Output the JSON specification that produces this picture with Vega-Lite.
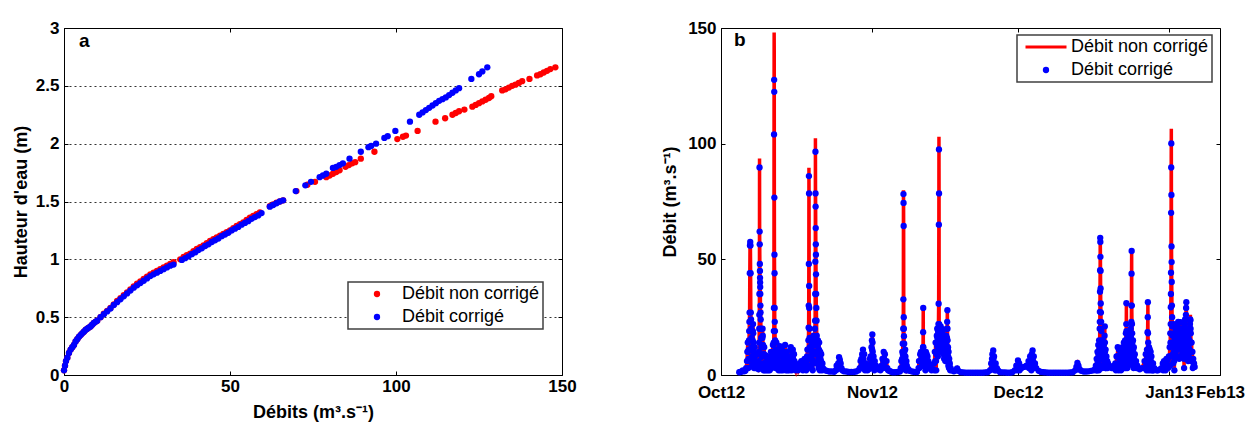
{
"$schema": "https://vega.github.io/schema/vega-lite/v6.json",
"padding": {"left": 11, "top": 18, "right": 4, "bottom": 0},
"background": "white",
"config": {
 "font": "Liberation Sans",
 "view": {"stroke": "black", "strokeWidth": 1},
 "axis": {"domain": false, "labelFont": "Liberation Sans", "labelFontSize": 17, "labelFontWeight": "bold", "labelColor": "black", "titleFont": "Liberation Sans", "titleFontSize": 18, "titleFontWeight": "bold", "titleColor": "black", "tickColor": "black", "tickSize": -4, "grid": false},
 "axisX": {"labelPadding": 7, "labelFlush": false},
 "axisY": {"labelPadding": 9},
 "legend": {"labelFont": "Liberation Sans", "labelFontSize": 18, "labelColor": "black", "strokeColor": "#404040", "strokeWidth": 1.5, "fillColor": "white", "padding": 3, "rowPadding": 5, "title": null}
},
"datasets": {
 "nc": [
  {"q":0,"h":0.04},{"q":0.3,"h":0.08},{"q":0.6,"h":0.12},{"q":1,"h":0.15},{"q":1.5,"h":0.19},{"q":2,"h":0.22},{"q":2.5,"h":0.24},{"q":3,"h":0.26},{"q":3.5,"h":0.29},{"q":4,"h":0.31},{"q":4.5,"h":0.33},{"q":5,"h":0.345},{"q":5.5,"h":0.36},{"q":6,"h":0.375},{"q":6.5,"h":0.39},{"q":7,"h":0.4},{"q":7.5,"h":0.41},{"q":8,"h":0.42},{"q":8.5,"h":0.435},{"q":9,"h":0.45},{"q":9.5,"h":0.46},{"q":10,"h":0.47},{"q":11,"h":0.5},{"q":12,"h":0.53},{"q":13,"h":0.555},{"q":14,"h":0.58},{"q":15,"h":0.61},{"q":16,"h":0.64},{"q":17,"h":0.665},{"q":18,"h":0.69},{"q":19,"h":0.715},{"q":20,"h":0.74},{"q":21,"h":0.765},{"q":22,"h":0.79},{"q":23,"h":0.81},{"q":24,"h":0.83},{"q":25,"h":0.85},{"q":26,"h":0.87},{"q":27,"h":0.885},{"q":28,"h":0.9},{"q":29,"h":0.915},{"q":30,"h":0.93},{"q":31,"h":0.945},{"q":32,"h":0.96},{"q":33,"h":0.975},{"q":35,"h":1.0},{"q":36,"h":1.02},{"q":37,"h":1.035},{"q":38,"h":1.05},{"q":39,"h":1.07},{"q":40,"h":1.09},{"q":41,"h":1.105},{"q":42,"h":1.12},{"q":43,"h":1.14},{"q":44,"h":1.16},{"q":45,"h":1.175},{"q":46,"h":1.19},{"q":47,"h":1.205},{"q":48,"h":1.22},{"q":49,"h":1.235},{"q":50,"h":1.25},{"q":51,"h":1.27},{"q":52,"h":1.29},{"q":53,"h":1.305},{"q":54,"h":1.32},{"q":55,"h":1.34},{"q":56,"h":1.36},{"q":57,"h":1.375},{"q":58,"h":1.39},{"q":59,"h":1.405},{"q":62,"h":1.46},{"q":63,"h":1.475},{"q":64,"h":1.49},{"q":65,"h":1.5},{"q":66,"h":1.51},
  {"q":70,"h":1.59},{"q":73.3,"h":1.645},{"q":75.6,"h":1.67},{"q":79,"h":1.71},{"q":80,"h":1.725},{"q":81,"h":1.74},{"q":82,"h":1.755},{"q":83,"h":1.77},{"q":84.8,"h":1.8},{"q":85.8,"h":1.815},{"q":86.8,"h":1.83},{"q":87.7,"h":1.84},{"q":89.4,"h":1.87},{"q":93.5,"h":1.93},{"q":100.4,"h":2.04},{"q":102.1,"h":2.06},{"q":103,"h":2.07},{"q":106.5,"h":2.11},{"q":111.9,"h":2.19},{"q":114.8,"h":2.22},{"q":117,"h":2.25},{"q":118,"h":2.265},{"q":119,"h":2.28},{"q":120.6,"h":2.295},{"q":123,"h":2.32},{"q":124,"h":2.335},{"q":125,"h":2.35},{"q":126,"h":2.365},{"q":127,"h":2.38},{"q":128,"h":2.395},{"q":128.7,"h":2.41},{"q":132,"h":2.46},{"q":133,"h":2.47},{"q":134,"h":2.485},{"q":135,"h":2.5},{"q":136,"h":2.51},{"q":137,"h":2.525},{"q":138,"h":2.54},{"q":140.2,"h":2.56},{"q":142.5,"h":2.59},{"q":143.5,"h":2.6},{"q":144.5,"h":2.615},{"q":145.5,"h":2.63},{"q":146.5,"h":2.645},{"q":148,"h":2.66}
 ],
 "c": [
  {"q":0,"h":0.04},{"q":0.3,"h":0.08},{"q":0.6,"h":0.12},{"q":1,"h":0.15},{"q":1.5,"h":0.19},{"q":2,"h":0.22},{"q":2.5,"h":0.24},{"q":3,"h":0.26},{"q":3.5,"h":0.29},{"q":4,"h":0.31},{"q":4.5,"h":0.33},{"q":5,"h":0.345},{"q":5.5,"h":0.36},{"q":6,"h":0.375},{"q":6.5,"h":0.39},{"q":7,"h":0.4},{"q":7.5,"h":0.41},{"q":8,"h":0.42},{"q":8.5,"h":0.435},{"q":9,"h":0.45},{"q":9.5,"h":0.46},{"q":10,"h":0.47},{"q":11,"h":0.5},{"q":12,"h":0.525},{"q":13,"h":0.55},{"q":14,"h":0.575},{"q":15,"h":0.605},{"q":16,"h":0.63},{"q":17,"h":0.655},{"q":18,"h":0.68},{"q":19,"h":0.705},{"q":20,"h":0.73},{"q":21,"h":0.755},{"q":22,"h":0.775},{"q":23,"h":0.795},{"q":24,"h":0.815},{"q":25,"h":0.835},{"q":26,"h":0.855},{"q":27,"h":0.87},{"q":28,"h":0.885},{"q":29,"h":0.9},{"q":30,"h":0.915},{"q":31,"h":0.93},{"q":32,"h":0.945},{"q":33,"h":0.955},{"q":35.5,"h":0.995},{"q":36.5,"h":1.01},{"q":37.5,"h":1.025},{"q":38.5,"h":1.045},{"q":39.5,"h":1.06},{"q":40.5,"h":1.08},{"q":41.5,"h":1.095},{"q":42.5,"h":1.115},{"q":43.5,"h":1.13},{"q":44.5,"h":1.15},{"q":45.5,"h":1.165},{"q":46.5,"h":1.18},{"q":47.5,"h":1.2},{"q":48.5,"h":1.215},{"q":49.5,"h":1.23},{"q":50.5,"h":1.25},{"q":51.5,"h":1.265},{"q":52.5,"h":1.28},{"q":53.5,"h":1.3},{"q":54.5,"h":1.315},{"q":55.5,"h":1.33},{"q":56.5,"h":1.35},{"q":57.5,"h":1.365},{"q":58.5,"h":1.38},{"q":59.5,"h":1.4},{"q":62,"h":1.455},{"q":63,"h":1.47},{"q":64,"h":1.485},{"q":65,"h":1.5},{"q":66,"h":1.51},
  {"q":69.8,"h":1.59},{"q":72.7,"h":1.64},{"q":74.4,"h":1.67},{"q":77,"h":1.71},{"q":78,"h":1.725},{"q":79,"h":1.74},{"q":81,"h":1.79},{"q":82,"h":1.8},{"q":83,"h":1.815},{"q":84,"h":1.83},{"q":86,"h":1.87},{"q":89.4,"h":1.93},{"q":91.7,"h":1.97},{"q":92.5,"h":1.98},{"q":94,"h":2.0},{"q":96.5,"h":2.05},{"q":97.5,"h":2.065},{"q":99.8,"h":2.11},{"q":104.2,"h":2.19},{"q":107,"h":2.25},{"q":108,"h":2.27},{"q":109,"h":2.29},{"q":110,"h":2.31},{"q":111,"h":2.33},{"q":112,"h":2.35},{"q":113,"h":2.37},{"q":114,"h":2.385},{"q":115,"h":2.4},{"q":116,"h":2.42},{"q":117,"h":2.44},{"q":118,"h":2.46},{"q":119,"h":2.48},{"q":122.7,"h":2.56},{"q":125,"h":2.6},{"q":126,"h":2.625},{"q":127.5,"h":2.66}
 ],
 "ts": [
  {"t":"2012-10-04 18:00","r":1.2,"b":1.2},{"t":"2012-10-05 00:00","r":1.3,"b":1.3},{"t":"2012-10-05 06:00","r":1.5,"b":1.5},{"t":"2012-10-05 12:00","r":2,"b":2},{"t":"2012-10-05 18:00","r":1.6,"b":1.6},
  {"t":"2012-10-06 00:00","r":1.8,"b":1.8},{"t":"2012-10-06 04:00","r":3,"b":3},{"t":"2012-10-06 08:00","r":6,"b":6},{"t":"2012-10-06 10:00","r":10,"b":10},{"t":"2012-10-06 12:00","r":14,"b":14},{"t":"2012-10-06 13:00","r":10,"b":10},{"t":"2012-10-06 14:00","r":6,"b":6},{"t":"2012-10-06 15:00","r":3,"b":3},{"t":"2012-10-06 16:00","r":7,"b":7},{"t":"2012-10-06 17:00","r":11,"b":11},{"t":"2012-10-06 18:00","r":15,"b":15},{"t":"2012-10-06 19:00","r":19,"b":19},{"t":"2012-10-06 20:00","r":23,"b":23},{"t":"2012-10-06 21:00","r":27,"b":27},{"t":"2012-10-06 22:00","r":44,"b":44},{"t":"2012-10-06 23:00","r":56,"b":56},
  {"t":"2012-10-07 00:00","r":58,"b":57.5},{"t":"2012-10-07 01:00","r":56,"b":56},{"t":"2012-10-07 02:00","r":44,"b":44},{"t":"2012-10-07 03:00","r":27,"b":27},{"t":"2012-10-07 04:00","r":24,"b":24},{"t":"2012-10-07 05:00","r":20,"b":20},{"t":"2012-10-07 06:00","r":16,"b":16},{"t":"2012-10-07 07:00","r":12,"b":12},{"t":"2012-10-07 08:00","r":8,"b":8},{"t":"2012-10-07 09:00","r":4,"b":4},{"t":"2012-10-07 10:00","r":7,"b":7},{"t":"2012-10-07 11:00","r":11,"b":11},{"t":"2012-10-07 12:00","r":15,"b":15},{"t":"2012-10-07 13:00","r":19,"b":19},{"t":"2012-10-07 14:00","r":22,"b":22},{"t":"2012-10-07 15:00","r":18,"b":18},{"t":"2012-10-07 16:00","r":14,"b":14},{"t":"2012-10-07 17:00","r":10,"b":10},{"t":"2012-10-07 18:00","r":6,"b":6},{"t":"2012-10-07 19:00","r":3,"b":3},{"t":"2012-10-07 20:00","r":6,"b":6},{"t":"2012-10-07 21:00","r":9,"b":9},{"t":"2012-10-07 22:00","r":12,"b":12},{"t":"2012-10-07 23:00","r":8,"b":8},
  {"t":"2012-10-08 00:00","r":5,"b":5},{"t":"2012-10-08 02:00","r":3,"b":3},{"t":"2012-10-08 04:00","r":4,"b":4},{"t":"2012-10-08 08:00","r":3.5,"b":3.5},{"t":"2012-10-08 12:00","r":3,"b":3},{"t":"2012-10-08 14:00","r":5,"b":5},{"t":"2012-10-08 15:00","r":9,"b":9},{"t":"2012-10-08 16:00","r":5,"b":5},{"t":"2012-10-08 17:00","r":2.5,"b":2.5},{"t":"2012-10-08 18:00","r":6,"b":6},{"t":"2012-10-08 19:00","r":10,"b":10},{"t":"2012-10-08 20:00","r":14,"b":14},{"t":"2012-10-08 20:30","r":20,"b":20},{"t":"2012-10-08 21:00","r":26,"b":26},{"t":"2012-10-08 21:30","r":35,"b":35},{"t":"2012-10-08 22:00","r":93.6,"b":89.7},{"t":"2012-10-08 22:30","r":62,"b":62},{"t":"2012-10-08 23:00","r":56.5,"b":56.5},{"t":"2012-10-08 23:30","r":48,"b":48},
  {"t":"2012-10-09 00:00","r":45,"b":45},{"t":"2012-10-09 00:30","r":42,"b":42},{"t":"2012-10-09 01:00","r":40,"b":40},{"t":"2012-10-09 01:30","r":38,"b":38},{"t":"2012-10-09 02:00","r":35,"b":35},{"t":"2012-10-09 02:30","r":30,"b":30},{"t":"2012-10-09 03:00","r":27,"b":27},{"t":"2012-10-09 04:00","r":24,"b":24},{"t":"2012-10-09 05:00","r":20,"b":20},{"t":"2012-10-09 06:00","r":16,"b":16},{"t":"2012-10-09 07:00","r":12,"b":12},{"t":"2012-10-09 08:00","r":8,"b":8},{"t":"2012-10-09 09:00","r":4,"b":4},{"t":"2012-10-09 10:00","r":8,"b":8},{"t":"2012-10-09 11:00","r":12,"b":12},{"t":"2012-10-09 12:00","r":16,"b":16},{"t":"2012-10-09 13:00","r":20,"b":20},{"t":"2012-10-09 14:00","r":17,"b":17},{"t":"2012-10-09 15:00","r":13,"b":13},{"t":"2012-10-09 16:00","r":9,"b":9},{"t":"2012-10-09 17:00","r":5,"b":5},{"t":"2012-10-09 18:00","r":2,"b":2},{"t":"2012-10-09 19:00","r":5,"b":5},{"t":"2012-10-09 20:00","r":9,"b":9},{"t":"2012-10-09 21:00","r":12,"b":12},{"t":"2012-10-09 22:00","r":8,"b":8},{"t":"2012-10-09 23:00","r":4,"b":4},
  {"t":"2012-10-10 00:00","r":2,"b":2},{"t":"2012-10-10 02:00","r":5,"b":5},{"t":"2012-10-10 04:00","r":8.5,"b":8.5},{"t":"2012-10-10 06:00","r":5,"b":5},{"t":"2012-10-10 08:00","r":2,"b":2},{"t":"2012-10-10 10:00","r":4,"b":4},{"t":"2012-10-10 12:00","r":7,"b":7},{"t":"2012-10-10 14:00","r":4,"b":4},{"t":"2012-10-10 16:00","r":2,"b":2},{"t":"2012-10-10 18:00","r":5,"b":5},{"t":"2012-10-10 20:00","r":7,"b":7},{"t":"2012-10-10 22:00","r":4,"b":4},
  {"t":"2012-10-11 00:00","r":2,"b":2},{"t":"2012-10-11 02:00","r":5,"b":5},{"t":"2012-10-11 04:00","r":8,"b":8},{"t":"2012-10-11 06:00","r":10,"b":10},{"t":"2012-10-11 08:00","r":6,"b":6},{"t":"2012-10-11 10:00","r":3,"b":3},{"t":"2012-10-11 12:00","r":6,"b":6},{"t":"2012-10-11 14:00","r":10,"b":10},{"t":"2012-10-11 16:00","r":13,"b":13},{"t":"2012-10-11 17:00","r":9,"b":9},{"t":"2012-10-11 18:00","r":5,"b":5},{"t":"2012-10-11 19:00","r":9,"b":9},{"t":"2012-10-11 20:00","r":14,"b":14},{"t":"2012-10-11 20:30","r":19,"b":19},{"t":"2012-10-11 21:00","r":29,"b":29},{"t":"2012-10-11 21:30","r":111,"b":104},{"t":"2012-10-11 22:00","r":148,"b":127.6},{"t":"2012-10-11 22:30","r":140,"b":122.4},{"t":"2012-10-11 23:00","r":78.5,"b":76.7},{"t":"2012-10-11 23:30","r":52,"b":52},
  {"t":"2012-10-12 00:00","r":44,"b":44},{"t":"2012-10-12 00:30","r":29,"b":29},{"t":"2012-10-12 01:00","r":23,"b":23},{"t":"2012-10-12 02:00","r":19,"b":19},{"t":"2012-10-12 03:00","r":15,"b":15},{"t":"2012-10-12 04:00","r":11,"b":11},{"t":"2012-10-12 05:00","r":7,"b":7},{"t":"2012-10-12 06:00","r":3,"b":3},{"t":"2012-10-12 07:00","r":6,"b":6},{"t":"2012-10-12 08:00","r":10,"b":10},{"t":"2012-10-12 09:00","r":14,"b":14},{"t":"2012-10-12 10:00","r":11,"b":11},{"t":"2012-10-12 11:00","r":7,"b":7},{"t":"2012-10-12 12:00","r":3,"b":3},{"t":"2012-10-12 14:00","r":7,"b":7},{"t":"2012-10-12 16:00","r":11,"b":11},{"t":"2012-10-12 17:00","r":8,"b":8},{"t":"2012-10-12 18:00","r":5,"b":5},{"t":"2012-10-12 20:00","r":2,"b":2},{"t":"2012-10-12 22:00","r":5,"b":5},{"t":"2012-10-12 23:00","r":8,"b":8},
  {"t":"2012-10-13 00:00","r":11,"b":11},{"t":"2012-10-13 02:00","r":12.5,"b":12.5},{"t":"2012-10-13 03:00","r":9,"b":9},{"t":"2012-10-13 04:00","r":5,"b":5},{"t":"2012-10-13 06:00","r":2,"b":2},{"t":"2012-10-13 08:00","r":5,"b":5},{"t":"2012-10-13 10:00","r":9,"b":9},{"t":"2012-10-13 12:00","r":12,"b":12},{"t":"2012-10-13 13:00","r":8,"b":8},{"t":"2012-10-13 14:00","r":4,"b":4},{"t":"2012-10-13 16:00","r":2,"b":2},{"t":"2012-10-13 18:00","r":6,"b":6},{"t":"2012-10-13 20:00","r":10,"b":10},{"t":"2012-10-13 21:00","r":6,"b":6},{"t":"2012-10-13 22:00","r":3,"b":3},
  {"t":"2012-10-14 00:00","r":6,"b":6},{"t":"2012-10-14 02:00","r":10,"b":10},{"t":"2012-10-14 04:00","r":13,"b":13},{"t":"2012-10-14 05:00","r":9,"b":9},{"t":"2012-10-14 06:00","r":5,"b":5},{"t":"2012-10-14 08:00","r":2,"b":2},{"t":"2012-10-14 10:00","r":6,"b":6},{"t":"2012-10-14 12:00","r":10,"b":10},{"t":"2012-10-14 13:00","r":7,"b":7},{"t":"2012-10-14 14:00","r":4,"b":4},{"t":"2012-10-14 16:00","r":2,"b":2},{"t":"2012-10-14 18:00","r":5,"b":5},{"t":"2012-10-14 20:00","r":8,"b":8},{"t":"2012-10-14 22:00","r":5,"b":5},
  {"t":"2012-10-15 00:00","r":2,"b":2},{"t":"2012-10-15 02:00","r":4,"b":4},{"t":"2012-10-15 04:00","r":7,"b":7},{"t":"2012-10-15 06:00","r":11,"b":11},{"t":"2012-10-15 08:00","r":12,"b":12},{"t":"2012-10-15 09:00","r":8,"b":8},{"t":"2012-10-15 10:00","r":4,"b":4},{"t":"2012-10-15 12:00","r":2,"b":2},{"t":"2012-10-15 14:00","r":6,"b":6},{"t":"2012-10-15 16:00","r":10,"b":10},{"t":"2012-10-15 18:00","r":11,"b":11},{"t":"2012-10-15 19:00","r":7,"b":7},{"t":"2012-10-15 20:00","r":3,"b":3},{"t":"2012-10-15 22:00","r":6,"b":6},
  {"t":"2012-10-16 00:00","r":9,"b":9},{"t":"2012-10-16 02:00","r":6,"b":6},{"t":"2012-10-16 04:00","r":3,"b":3},{"t":"2012-10-16 08:00","r":2,"b":2},{"t":"2012-10-16 12:00","r":4,"b":4},{"t":"2012-10-16 16:00","r":3,"b":3},{"t":"2012-10-16 20:00","r":2,"b":2},
  {"t":"2012-10-17 00:00","r":3,"b":3},{"t":"2012-10-17 04:00","r":5,"b":5},{"t":"2012-10-17 08:00","r":3,"b":3},{"t":"2012-10-17 12:00","r":6,"b":6},{"t":"2012-10-17 16:00","r":4,"b":4},{"t":"2012-10-17 20:00","r":2,"b":2},
  {"t":"2012-10-18 00:00","r":4,"b":4},{"t":"2012-10-18 04:00","r":7,"b":7},{"t":"2012-10-18 08:00","r":4,"b":4},{"t":"2012-10-18 12:00","r":2,"b":2},{"t":"2012-10-18 14:00","r":5,"b":5},{"t":"2012-10-18 16:00","r":8,"b":8},{"t":"2012-10-18 18:00","r":11,"b":11},{"t":"2012-10-18 19:00","r":7,"b":7},{"t":"2012-10-18 20:00","r":3,"b":3},{"t":"2012-10-18 21:00","r":7,"b":7},{"t":"2012-10-18 22:00","r":11,"b":11},{"t":"2012-10-18 23:00","r":15,"b":15},
  {"t":"2012-10-19 00:00","r":20.5,"b":20.5},{"t":"2012-10-19 00:30","r":30,"b":30},{"t":"2012-10-19 01:00","r":48,"b":48},{"t":"2012-10-19 01:30","r":89.6,"b":86},{"t":"2012-10-19 02:00","r":80.5,"b":78.5},{"t":"2012-10-19 02:30","r":38.5,"b":38.5},{"t":"2012-10-19 03:00","r":29,"b":29},{"t":"2012-10-19 04:00","r":20,"b":20},{"t":"2012-10-19 05:00","r":16,"b":16},{"t":"2012-10-19 06:00","r":12,"b":12},{"t":"2012-10-19 07:00","r":8,"b":8},{"t":"2012-10-19 08:00","r":4,"b":4},{"t":"2012-10-19 09:00","r":8,"b":8},{"t":"2012-10-19 10:00","r":12,"b":12},{"t":"2012-10-19 11:00","r":15,"b":15},{"t":"2012-10-19 12:00","r":11,"b":11},{"t":"2012-10-19 13:00","r":7,"b":7},{"t":"2012-10-19 14:00","r":3,"b":3},{"t":"2012-10-19 15:00","r":7,"b":7},{"t":"2012-10-19 16:00","r":11,"b":11},{"t":"2012-10-19 17:00","r":14,"b":14},{"t":"2012-10-19 18:00","r":10,"b":10},{"t":"2012-10-19 19:00","r":6,"b":6},{"t":"2012-10-19 20:00","r":2,"b":2},{"t":"2012-10-19 21:00","r":6,"b":6},{"t":"2012-10-19 22:00","r":10,"b":10},{"t":"2012-10-19 23:00","r":14,"b":14},
  {"t":"2012-10-20 00:00","r":17,"b":17},{"t":"2012-10-20 01:00","r":13,"b":13},{"t":"2012-10-20 02:00","r":9,"b":9},{"t":"2012-10-20 03:00","r":5,"b":5},{"t":"2012-10-20 04:00","r":9,"b":9},{"t":"2012-10-20 05:00","r":13,"b":13},{"t":"2012-10-20 06:00","r":16,"b":16},{"t":"2012-10-20 07:00","r":20,"b":20},{"t":"2012-10-20 08:00","r":23.5,"b":23.5},{"t":"2012-10-20 08:30","r":35,"b":35},{"t":"2012-10-20 09:00","r":49,"b":49},{"t":"2012-10-20 09:30","r":102.3,"b":96.5},{"t":"2012-10-20 10:00","r":81,"b":78.5},{"t":"2012-10-20 10:30","r":74,"b":72.8},{"t":"2012-10-20 11:00","r":63.5,"b":63.5},{"t":"2012-10-20 11:30","r":56.5,"b":56.5},{"t":"2012-10-20 12:00","r":52,"b":52},{"t":"2012-10-20 12:30","r":43.5,"b":43.5},{"t":"2012-10-20 13:00","r":35,"b":35},{"t":"2012-10-20 14:00","r":29,"b":29},{"t":"2012-10-20 15:00","r":23.5,"b":23.5},{"t":"2012-10-20 16:00","r":17,"b":17},{"t":"2012-10-20 17:00","r":13,"b":13},{"t":"2012-10-20 18:00","r":9,"b":9},{"t":"2012-10-20 19:00","r":5,"b":5},{"t":"2012-10-20 20:00","r":9,"b":9},{"t":"2012-10-20 21:00","r":13,"b":13},{"t":"2012-10-20 22:00","r":15,"b":15},{"t":"2012-10-20 23:00","r":11,"b":11},
  {"t":"2012-10-21 00:00","r":7,"b":7},{"t":"2012-10-21 01:00","r":3,"b":3},{"t":"2012-10-21 02:00","r":7,"b":7},{"t":"2012-10-21 03:00","r":11,"b":11},{"t":"2012-10-21 04:00","r":14,"b":14},{"t":"2012-10-21 05:00","r":10,"b":10},{"t":"2012-10-21 06:00","r":6,"b":6},{"t":"2012-10-21 07:00","r":2,"b":2},{"t":"2012-10-21 08:00","r":6,"b":6},{"t":"2012-10-21 09:00","r":10,"b":10},{"t":"2012-10-21 10:00","r":7,"b":7},{"t":"2012-10-21 11:00","r":3,"b":3},{"t":"2012-10-21 13:00","r":6,"b":6},{"t":"2012-10-21 14:00","r":9,"b":9},{"t":"2012-10-21 16:00","r":5,"b":5},{"t":"2012-10-21 18:00","r":2,"b":2},{"t":"2012-10-21 20:00","r":5,"b":5},{"t":"2012-10-21 22:00","r":3,"b":3},
  {"t":"2012-10-22 02:00","r":2.5,"b":2.5},{"t":"2012-10-22 10:00","r":2,"b":2},{"t":"2012-10-22 18:00","r":1.8,"b":1.8},{"t":"2012-10-23 06:00","r":1.5,"b":1.5},{"t":"2012-10-23 18:00","r":1.5,"b":1.5},
  {"t":"2012-10-24 06:00","r":1.4,"b":1.4},{"t":"2012-10-24 14:00","r":2,"b":2},{"t":"2012-10-24 18:00","r":4,"b":4},{"t":"2012-10-24 22:00","r":2.5,"b":2.5},{"t":"2012-10-25 02:00","r":5,"b":5},{"t":"2012-10-25 06:00","r":7.7,"b":7.7},{"t":"2012-10-25 08:00","r":4,"b":4},{"t":"2012-10-25 10:00","r":6.5,"b":6.5},{"t":"2012-10-25 12:00","r":3,"b":3},{"t":"2012-10-25 14:00","r":5,"b":5},{"t":"2012-10-25 18:00","r":3,"b":3},{"t":"2012-10-25 22:00","r":2,"b":2},
  {"t":"2012-10-26 06:00","r":1.6,"b":1.6},{"t":"2012-10-26 18:00","r":1.5,"b":1.5},{"t":"2012-10-27 06:00","r":1.3,"b":1.3},{"t":"2012-10-27 18:00","r":1.3,"b":1.3},{"t":"2012-10-28 06:00","r":1.3,"b":1.3},{"t":"2012-10-28 18:00","r":1.5,"b":1.5},
  {"t":"2012-10-29 06:00","r":2,"b":2},{"t":"2012-10-29 12:00","r":3,"b":3},{"t":"2012-10-29 16:00","r":6,"b":6},{"t":"2012-10-29 18:00","r":3,"b":3},{"t":"2012-10-29 20:00","r":7,"b":7},{"t":"2012-10-29 22:00","r":4,"b":4},
  {"t":"2012-10-30 00:00","r":9,"b":9},{"t":"2012-10-30 02:00","r":5,"b":5},{"t":"2012-10-30 04:00","r":11,"b":11},{"t":"2012-10-30 06:00","r":7,"b":7},{"t":"2012-10-30 08:00","r":3,"b":3},{"t":"2012-10-30 10:00","r":9,"b":9},{"t":"2012-10-30 12:00","r":5,"b":5},{"t":"2012-10-30 14:00","r":2,"b":2},{"t":"2012-10-30 16:00","r":5,"b":5},{"t":"2012-10-30 20:00","r":3,"b":3},
  {"t":"2012-10-31 02:00","r":2,"b":2},{"t":"2012-10-31 08:00","r":2.5,"b":2.5},{"t":"2012-10-31 12:00","r":4,"b":4},{"t":"2012-10-31 14:00","r":7,"b":7},{"t":"2012-10-31 16:00","r":4,"b":4},{"t":"2012-10-31 18:00","r":8,"b":8},{"t":"2012-10-31 20:00","r":5,"b":5},{"t":"2012-10-31 22:00","r":12,"b":12},{"t":"2012-10-31 23:00","r":8,"b":8},
  {"t":"2012-11-01 00:00","r":15,"b":15},{"t":"2012-11-01 01:00","r":11,"b":11},{"t":"2012-11-01 02:00","r":18.5,"b":17.5},{"t":"2012-11-01 03:00","r":14,"b":14},{"t":"2012-11-01 04:00","r":10,"b":10},{"t":"2012-11-01 05:00","r":6,"b":6},{"t":"2012-11-01 06:00","r":3,"b":3},{"t":"2012-11-01 08:00","r":8,"b":8},{"t":"2012-11-01 10:00","r":5,"b":5},{"t":"2012-11-01 12:00","r":2,"b":2},{"t":"2012-11-01 14:00","r":6,"b":6},{"t":"2012-11-01 16:00","r":3,"b":3},{"t":"2012-11-01 20:00","r":4,"b":4},
  {"t":"2012-11-02 06:00","r":2.5,"b":2.5},{"t":"2012-11-02 18:00","r":2,"b":2},
  {"t":"2012-11-03 00:00","r":4,"b":4},{"t":"2012-11-03 04:00","r":7,"b":7},{"t":"2012-11-03 06:00","r":3,"b":3},{"t":"2012-11-03 08:00","r":6,"b":6},{"t":"2012-11-03 10:00","r":10,"b":10},{"t":"2012-11-03 12:00","r":7,"b":7},{"t":"2012-11-03 14:00","r":4,"b":4},{"t":"2012-11-03 16:00","r":9,"b":9},{"t":"2012-11-03 18:00","r":6,"b":6},{"t":"2012-11-03 20:00","r":3,"b":3},
  {"t":"2012-11-04 00:00","r":6,"b":6},{"t":"2012-11-04 04:00","r":3,"b":3},{"t":"2012-11-04 08:00","r":2,"b":2},{"t":"2012-11-04 14:00","r":1.8,"b":1.8},{"t":"2012-11-04 20:00","r":1.5,"b":1.5},
  {"t":"2012-11-05 06:00","r":1.2,"b":1.2},{"t":"2012-11-05 18:00","r":1.2,"b":1.2},{"t":"2012-11-06 06:00","r":1.3,"b":1.3},{"t":"2012-11-06 18:00","r":1.5,"b":1.5},{"t":"2012-11-06 22:00","r":3,"b":3},
  {"t":"2012-11-07 01:00","r":6,"b":6},{"t":"2012-11-07 03:00","r":3,"b":3},{"t":"2012-11-07 05:00","r":7,"b":7},{"t":"2012-11-07 06:00","r":10,"b":10},{"t":"2012-11-07 07:00","r":6,"b":6},{"t":"2012-11-07 08:00","r":13.5,"b":13.5},{"t":"2012-11-07 09:00","r":9,"b":9},{"t":"2012-11-07 10:00","r":5,"b":5},{"t":"2012-11-07 10:30","r":20,"b":20},{"t":"2012-11-07 11:00","r":32.7,"b":32.7},{"t":"2012-11-07 11:30","r":79.9,"b":78.2},{"t":"2012-11-07 12:00","r":75.5,"b":74.4},{"t":"2012-11-07 12:30","r":64.6,"b":64.4},{"t":"2012-11-07 13:00","r":25,"b":25},{"t":"2012-11-07 13:30","r":20,"b":20},{"t":"2012-11-07 14:00","r":16.8,"b":16.8},{"t":"2012-11-07 15:00","r":13.5,"b":13.5},{"t":"2012-11-07 16:00","r":10,"b":10},{"t":"2012-11-07 17:00","r":6,"b":6},{"t":"2012-11-07 18:00","r":3,"b":3},{"t":"2012-11-07 19:00","r":7,"b":7},{"t":"2012-11-07 20:00","r":11,"b":11},{"t":"2012-11-07 21:00","r":8,"b":8},{"t":"2012-11-07 22:00","r":5,"b":5},{"t":"2012-11-07 23:00","r":2,"b":2},
  {"t":"2012-11-08 02:00","r":6,"b":6},{"t":"2012-11-08 04:00","r":4,"b":4},{"t":"2012-11-08 06:00","r":2,"b":2},{"t":"2012-11-08 12:00","r":2.5,"b":2.5},{"t":"2012-11-08 18:00","r":1.8,"b":1.8},{"t":"2012-11-09 06:00","r":1.5,"b":1.5},{"t":"2012-11-09 18:00","r":1.3,"b":1.3},
  {"t":"2012-11-10 06:00","r":1.3,"b":1.3},{"t":"2012-11-10 14:00","r":3,"b":3},{"t":"2012-11-10 16:00","r":6,"b":6},{"t":"2012-11-10 18:00","r":3,"b":3},{"t":"2012-11-10 20:00","r":6,"b":6},{"t":"2012-11-10 22:00","r":9,"b":9},
  {"t":"2012-11-11 00:00","r":6,"b":6},{"t":"2012-11-11 02:00","r":10,"b":10},{"t":"2012-11-11 04:00","r":7,"b":7},{"t":"2012-11-11 06:00","r":4,"b":4},{"t":"2012-11-11 08:00","r":8,"b":8},{"t":"2012-11-11 10:00","r":5,"b":5},{"t":"2012-11-11 12:00","r":12,"b":12},{"t":"2012-11-11 12:30","r":18.5,"b":18.5},{"t":"2012-11-11 13:00","r":29.3,"b":29},{"t":"2012-11-11 13:30","r":12,"b":12},{"t":"2012-11-11 14:00","r":8,"b":8},{"t":"2012-11-11 15:00","r":4,"b":4},{"t":"2012-11-11 16:00","r":7,"b":7},{"t":"2012-11-11 18:00","r":10,"b":10},{"t":"2012-11-11 20:00","r":6,"b":6},{"t":"2012-11-11 22:00","r":9.5,"b":9.5},{"t":"2012-11-11 23:00","r":5,"b":5},
  {"t":"2012-11-12 00:00","r":2,"b":2},{"t":"2012-11-12 02:00","r":10,"b":10},{"t":"2012-11-12 03:00","r":6,"b":6},{"t":"2012-11-12 04:00","r":3,"b":3},{"t":"2012-11-12 06:00","r":9,"b":9},{"t":"2012-11-12 08:00","r":5,"b":5},{"t":"2012-11-12 10:00","r":8,"b":8},{"t":"2012-11-12 12:00","r":4,"b":4},{"t":"2012-11-12 14:00","r":6,"b":6},{"t":"2012-11-12 16:00","r":3,"b":3},{"t":"2012-11-12 18:00","r":4,"b":4},{"t":"2012-11-12 22:00","r":3,"b":3},
  {"t":"2012-11-13 06:00","r":2,"b":2},{"t":"2012-11-13 12:00","r":2.5,"b":2.5},{"t":"2012-11-13 18:00","r":5,"b":5},{"t":"2012-11-13 20:00","r":2,"b":2},{"t":"2012-11-13 22:00","r":10,"b":10},
  {"t":"2012-11-14 00:00","r":6,"b":6},{"t":"2012-11-14 02:00","r":14,"b":14},{"t":"2012-11-14 03:00","r":10,"b":10},{"t":"2012-11-14 04:00","r":6,"b":6},{"t":"2012-11-14 05:00","r":2,"b":2},{"t":"2012-11-14 06:00","r":9,"b":9},{"t":"2012-11-14 08:00","r":17,"b":17},{"t":"2012-11-14 09:00","r":13,"b":13},{"t":"2012-11-14 10:00","r":20,"b":20},{"t":"2012-11-14 11:00","r":16,"b":16},{"t":"2012-11-14 12:00","r":12,"b":12},{"t":"2012-11-14 13:00","r":8,"b":8},{"t":"2012-11-14 14:00","r":19,"b":19},{"t":"2012-11-14 15:00","r":15,"b":15},{"t":"2012-11-14 16:00","r":22,"b":22},{"t":"2012-11-14 17:00","r":30.8,"b":30.8},{"t":"2012-11-14 18:00","r":65.5,"b":65},{"t":"2012-11-14 18:30","r":103,"b":97.5},{"t":"2012-11-14 19:00","r":80.5,"b":78.5},{"t":"2012-11-14 19:30","r":22,"b":22},{"t":"2012-11-14 20:00","r":18,"b":18},{"t":"2012-11-14 21:00","r":14,"b":14},{"t":"2012-11-14 22:00","r":10,"b":10},{"t":"2012-11-14 23:00","r":20,"b":20},
  {"t":"2012-11-15 00:00","r":19,"b":19},{"t":"2012-11-15 01:00","r":15,"b":15},{"t":"2012-11-15 02:00","r":11,"b":11},{"t":"2012-11-15 03:00","r":21,"b":21},{"t":"2012-11-15 04:00","r":17,"b":17},{"t":"2012-11-15 05:00","r":13,"b":13},{"t":"2012-11-15 06:00","r":20,"b":20},{"t":"2012-11-15 07:00","r":16,"b":16},{"t":"2012-11-15 08:00","r":12,"b":12},{"t":"2012-11-15 09:00","r":18,"b":18},{"t":"2012-11-15 10:00","r":14,"b":14},{"t":"2012-11-15 11:00","r":10,"b":10},{"t":"2012-11-15 12:00","r":19,"b":19},{"t":"2012-11-15 13:00","r":15,"b":15},{"t":"2012-11-15 14:00","r":11,"b":11},{"t":"2012-11-15 15:00","r":17,"b":17},{"t":"2012-11-15 16:00","r":13,"b":13},{"t":"2012-11-15 17:00","r":9,"b":9},{"t":"2012-11-15 18:00","r":15,"b":15},{"t":"2012-11-15 19:00","r":11,"b":11},{"t":"2012-11-15 20:00","r":7,"b":7},{"t":"2012-11-15 21:00","r":16,"b":16},{"t":"2012-11-15 22:00","r":12,"b":12},{"t":"2012-11-15 23:00","r":8,"b":8},
  {"t":"2012-11-16 00:00","r":14,"b":14},{"t":"2012-11-16 01:00","r":10,"b":10},{"t":"2012-11-16 02:00","r":6,"b":6},{"t":"2012-11-16 03:00","r":15,"b":15},{"t":"2012-11-16 04:00","r":11,"b":11},{"t":"2012-11-16 05:00","r":7,"b":7},{"t":"2012-11-16 06:00","r":17,"b":17},{"t":"2012-11-16 07:00","r":13,"b":13},{"t":"2012-11-16 08:00","r":9,"b":9},{"t":"2012-11-16 09:00","r":20,"b":20},{"t":"2012-11-16 10:00","r":16,"b":16},{"t":"2012-11-16 11:00","r":23,"b":23},{"t":"2012-11-16 12:00","r":28.5,"b":28},{"t":"2012-11-16 12:30","r":20,"b":20},{"t":"2012-11-16 13:00","r":15,"b":15},{"t":"2012-11-16 14:00","r":11,"b":11},{"t":"2012-11-16 15:00","r":12,"b":12},{"t":"2012-11-16 16:00","r":8,"b":8},{"t":"2012-11-16 17:00","r":4,"b":4},{"t":"2012-11-16 18:00","r":10,"b":10},{"t":"2012-11-16 19:00","r":6,"b":6},{"t":"2012-11-16 20:00","r":3,"b":3},{"t":"2012-11-16 21:00","r":7,"b":7},{"t":"2012-11-16 22:00","r":4,"b":4},
  {"t":"2012-11-17 00:00","r":5,"b":5},{"t":"2012-11-17 02:00","r":2,"b":2},{"t":"2012-11-17 04:00","r":3,"b":3},{"t":"2012-11-17 10:00","r":2,"b":2},{"t":"2012-11-17 20:00","r":1.6,"b":1.6},
  {"t":"2012-11-18 06:00","r":2,"b":2},{"t":"2012-11-18 12:00","r":2.8,"b":2.8},{"t":"2012-11-18 18:00","r":1.8,"b":1.8},{"t":"2012-11-19 06:00","r":1.2,"b":1.2},{"t":"2012-11-19 18:00","r":1.1,"b":1.1},
  {"t":"2012-11-20 06:00","r":1,"b":1},{"t":"2012-11-20 18:00","r":1,"b":1},{"t":"2012-11-21 06:00","r":1,"b":1},{"t":"2012-11-21 18:00","r":1,"b":1},{"t":"2012-11-22 06:00","r":1,"b":1},{"t":"2012-11-22 18:00","r":1,"b":1},{"t":"2012-11-23 06:00","r":1,"b":1},{"t":"2012-11-23 18:00","r":1,"b":1},{"t":"2012-11-24 06:00","r":1.1,"b":1.1},{"t":"2012-11-24 18:00","r":1.2,"b":1.2},
  {"t":"2012-11-25 06:00","r":2,"b":2},{"t":"2012-11-25 12:00","r":5,"b":5},{"t":"2012-11-25 14:00","r":2.5,"b":2.5},{"t":"2012-11-25 16:00","r":7,"b":7},{"t":"2012-11-25 18:00","r":9,"b":9},{"t":"2012-11-25 20:00","r":5,"b":5},{"t":"2012-11-25 22:00","r":10.6,"b":10.6},{"t":"2012-11-25 23:00","r":7,"b":7},
  {"t":"2012-11-26 00:00","r":4,"b":4},{"t":"2012-11-26 02:00","r":8,"b":8},{"t":"2012-11-26 04:00","r":5,"b":5},{"t":"2012-11-26 06:00","r":2,"b":2},{"t":"2012-11-26 10:00","r":5,"b":5},{"t":"2012-11-26 12:00","r":2,"b":2},{"t":"2012-11-26 16:00","r":3,"b":3},{"t":"2012-11-26 22:00","r":2,"b":2},
  {"t":"2012-11-27 08:00","r":1.2,"b":1.2},{"t":"2012-11-27 20:00","r":1.1,"b":1.1},{"t":"2012-11-28 08:00","r":1.1,"b":1.1},{"t":"2012-11-28 20:00","r":1,"b":1},{"t":"2012-11-29 08:00","r":1,"b":1},{"t":"2012-11-29 20:00","r":1.2,"b":1.2},
  {"t":"2012-11-30 08:00","r":2,"b":2},{"t":"2012-11-30 16:00","r":4,"b":4},{"t":"2012-11-30 20:00","r":2,"b":2},
  {"t":"2012-12-01 00:00","r":6.3,"b":6.3},{"t":"2012-12-01 02:00","r":3,"b":3},{"t":"2012-12-01 06:00","r":5,"b":5},{"t":"2012-12-01 08:00","r":2,"b":2},{"t":"2012-12-01 12:00","r":3.5,"b":3.5},{"t":"2012-12-01 18:00","r":3,"b":3},
  {"t":"2012-12-02 06:00","r":3.5,"b":3.5},{"t":"2012-12-02 18:00","r":4,"b":4},
  {"t":"2012-12-03 04:00","r":6,"b":6},{"t":"2012-12-03 06:00","r":3,"b":3},{"t":"2012-12-03 12:00","r":8,"b":8},{"t":"2012-12-03 14:00","r":4,"b":4},{"t":"2012-12-03 18:00","r":2,"b":2},{"t":"2012-12-03 20:00","r":9,"b":9},{"t":"2012-12-03 22:00","r":5,"b":5},
  {"t":"2012-12-04 00:00","r":10.6,"b":10.6},{"t":"2012-12-04 02:00","r":6,"b":6},{"t":"2012-12-04 04:00","r":3,"b":3},{"t":"2012-12-04 06:00","r":8,"b":8},{"t":"2012-12-04 08:00","r":4,"b":4},{"t":"2012-12-04 12:00","r":5,"b":5},{"t":"2012-12-04 18:00","r":3,"b":3},
  {"t":"2012-12-05 06:00","r":1.8,"b":1.8},{"t":"2012-12-05 18:00","r":1.3,"b":1.3},{"t":"2012-12-06 06:00","r":1.2,"b":1.2},{"t":"2012-12-06 18:00","r":1.1,"b":1.1},{"t":"2012-12-07 06:00","r":1,"b":1},{"t":"2012-12-07 18:00","r":1,"b":1},{"t":"2012-12-08 06:00","r":1,"b":1},{"t":"2012-12-08 18:00","r":1,"b":1},{"t":"2012-12-09 06:00","r":1,"b":1},{"t":"2012-12-09 18:00","r":1,"b":1},{"t":"2012-12-10 06:00","r":1,"b":1},{"t":"2012-12-10 18:00","r":1,"b":1},{"t":"2012-12-11 06:00","r":1,"b":1},{"t":"2012-12-11 18:00","r":1.1,"b":1.1},{"t":"2012-12-12 06:00","r":1.2,"b":1.2},
  {"t":"2012-12-12 18:00","r":2,"b":2},{"t":"2012-12-13 00:00","r":3.5,"b":3.5},{"t":"2012-12-13 05:00","r":5.2,"b":5.2},{"t":"2012-12-13 07:00","r":2.5,"b":2.5},{"t":"2012-12-13 10:00","r":4,"b":4},{"t":"2012-12-13 16:00","r":2.5,"b":2.5},
  {"t":"2012-12-14 00:00","r":1.8,"b":1.8},{"t":"2012-12-14 12:00","r":1.5,"b":1.5},{"t":"2012-12-15 00:00","r":1.5,"b":1.5},{"t":"2012-12-15 12:00","r":1.6,"b":1.6},{"t":"2012-12-16 00:00","r":1.8,"b":1.8},{"t":"2012-12-16 12:00","r":2,"b":2},{"t":"2012-12-16 20:00","r":2.5,"b":2.5},
  {"t":"2012-12-17 00:00","r":4,"b":4},{"t":"2012-12-17 02:00","r":2,"b":2},{"t":"2012-12-17 04:00","r":7,"b":7},{"t":"2012-12-17 05:00","r":4,"b":4},{"t":"2012-12-17 06:00","r":2,"b":2},{"t":"2012-12-17 08:00","r":10,"b":10},{"t":"2012-12-17 09:00","r":6,"b":6},{"t":"2012-12-17 10:00","r":3,"b":3},{"t":"2012-12-17 12:00","r":13,"b":13},{"t":"2012-12-17 13:00","r":9,"b":9},{"t":"2012-12-17 14:00","r":5,"b":5},{"t":"2012-12-17 15:00","r":2,"b":2},{"t":"2012-12-17 16:00","r":15,"b":15},{"t":"2012-12-17 17:00","r":11,"b":11},{"t":"2012-12-17 18:00","r":7,"b":7},{"t":"2012-12-17 18:30","r":3,"b":3},{"t":"2012-12-17 19:00","r":20,"b":20},{"t":"2012-12-17 19:30","r":23,"b":23},{"t":"2012-12-17 20:00","r":27.3,"b":27.3},{"t":"2012-12-17 20:30","r":36,"b":36},{"t":"2012-12-17 21:00","r":45.3,"b":45.3},{"t":"2012-12-17 21:30","r":60.1,"b":59.3},{"t":"2012-12-17 22:00","r":57.5,"b":57.5},{"t":"2012-12-17 22:30","r":51.1,"b":51.1},{"t":"2012-12-17 23:00","r":45,"b":45},{"t":"2012-12-17 23:30","r":37.4,"b":37.4},
  {"t":"2012-12-18 00:00","r":30.9,"b":30.9},{"t":"2012-12-18 01:00","r":27,"b":27},{"t":"2012-12-18 02:00","r":23,"b":23},{"t":"2012-12-18 03:00","r":19,"b":19},{"t":"2012-12-18 04:00","r":15,"b":15},{"t":"2012-12-18 05:00","r":11,"b":11},{"t":"2012-12-18 06:00","r":7,"b":7},{"t":"2012-12-18 07:00","r":3,"b":3},{"t":"2012-12-18 08:00","r":7,"b":7},{"t":"2012-12-18 09:00","r":11,"b":11},{"t":"2012-12-18 10:00","r":15,"b":15},{"t":"2012-12-18 11:00","r":12,"b":12},{"t":"2012-12-18 12:00","r":8,"b":8},{"t":"2012-12-18 13:00","r":4,"b":4},{"t":"2012-12-18 14:00","r":9,"b":9},{"t":"2012-12-18 15:00","r":13,"b":13},{"t":"2012-12-18 16:00","r":10,"b":10},{"t":"2012-12-18 17:00","r":6,"b":6},{"t":"2012-12-18 18:00","r":14,"b":14},{"t":"2012-12-18 19:00","r":17,"b":17},{"t":"2012-12-18 20:00","r":21,"b":21},{"t":"2012-12-18 20:30","r":14,"b":14},{"t":"2012-12-18 21:00","r":10,"b":10},{"t":"2012-12-18 22:00","r":6,"b":6},{"t":"2012-12-18 23:00","r":3,"b":3},
  {"t":"2012-12-19 00:00","r":11,"b":11},{"t":"2012-12-19 01:00","r":7,"b":7},{"t":"2012-12-19 02:00","r":3,"b":3},{"t":"2012-12-19 04:00","r":8,"b":8},{"t":"2012-12-19 06:00","r":4,"b":4},{"t":"2012-12-19 08:00","r":6,"b":6},{"t":"2012-12-19 10:00","r":3,"b":3},{"t":"2012-12-19 12:00","r":5,"b":5},{"t":"2012-12-19 18:00","r":4,"b":4},
  {"t":"2012-12-20 00:00","r":3.5,"b":3.5},{"t":"2012-12-20 06:00","r":3,"b":3},{"t":"2012-12-20 12:00","r":3,"b":3},{"t":"2012-12-20 18:00","r":4,"b":4},
  {"t":"2012-12-21 00:00","r":5,"b":5},{"t":"2012-12-21 03:00","r":2,"b":2},{"t":"2012-12-21 06:00","r":8,"b":8},{"t":"2012-12-21 08:00","r":4,"b":4},{"t":"2012-12-21 10:00","r":8,"b":8},{"t":"2012-12-21 12:00","r":12,"b":12},{"t":"2012-12-21 13:00","r":8,"b":8},{"t":"2012-12-21 14:00","r":4,"b":4},{"t":"2012-12-21 16:00","r":2,"b":2},{"t":"2012-12-21 18:00","r":11,"b":11},{"t":"2012-12-21 19:00","r":7,"b":7},{"t":"2012-12-21 20:00","r":3,"b":3},
  {"t":"2012-12-22 00:00","r":9,"b":9},{"t":"2012-12-22 02:00","r":5,"b":5},{"t":"2012-12-22 04:00","r":2,"b":2},{"t":"2012-12-22 06:00","r":10,"b":10},{"t":"2012-12-22 08:00","r":6,"b":6},{"t":"2012-12-22 10:00","r":3,"b":3},{"t":"2012-12-22 12:00","r":12,"b":12},{"t":"2012-12-22 13:00","r":8,"b":8},{"t":"2012-12-22 14:00","r":4,"b":4},{"t":"2012-12-22 16:00","r":9,"b":9},{"t":"2012-12-22 18:00","r":14,"b":14},{"t":"2012-12-22 19:00","r":10,"b":10},{"t":"2012-12-22 20:00","r":6,"b":6},{"t":"2012-12-22 21:00","r":3,"b":3},{"t":"2012-12-22 22:00","r":8,"b":8},{"t":"2012-12-22 23:00","r":12,"b":12},
  {"t":"2012-12-23 00:00","r":15,"b":15},{"t":"2012-12-23 01:00","r":11,"b":11},{"t":"2012-12-23 02:00","r":7,"b":7},{"t":"2012-12-23 03:00","r":3,"b":3},{"t":"2012-12-23 04:00","r":18,"b":18},{"t":"2012-12-23 05:00","r":14,"b":14},{"t":"2012-12-23 06:00","r":22,"b":22},{"t":"2012-12-23 06:30","r":31,"b":31},{"t":"2012-12-23 07:00","r":19,"b":19},{"t":"2012-12-23 08:00","r":15,"b":15},{"t":"2012-12-23 09:00","r":11,"b":11},{"t":"2012-12-23 10:00","r":7,"b":7},{"t":"2012-12-23 11:00","r":3,"b":3},{"t":"2012-12-23 12:00","r":16,"b":16},{"t":"2012-12-23 13:00","r":12,"b":12},{"t":"2012-12-23 14:00","r":8,"b":8},{"t":"2012-12-23 15:00","r":4,"b":4},{"t":"2012-12-23 16:00","r":15,"b":15},{"t":"2012-12-23 17:00","r":11,"b":11},{"t":"2012-12-23 18:00","r":7,"b":7},{"t":"2012-12-23 20:00","r":17,"b":17},{"t":"2012-12-23 21:00","r":13,"b":13},{"t":"2012-12-23 22:00","r":9,"b":9},{"t":"2012-12-23 23:00","r":5,"b":5},
  {"t":"2012-12-24 00:00","r":18,"b":18},{"t":"2012-12-24 01:00","r":14,"b":14},{"t":"2012-12-24 02:00","r":10,"b":10},{"t":"2012-12-24 03:00","r":6,"b":6},{"t":"2012-12-24 04:00","r":20,"b":20},{"t":"2012-12-24 05:00","r":16,"b":16},{"t":"2012-12-24 06:00","r":12,"b":12},{"t":"2012-12-24 07:00","r":23,"b":23},{"t":"2012-12-24 07:30","r":30,"b":30},{"t":"2012-12-24 08:00","r":43.8,"b":43.8},{"t":"2012-12-24 08:30","r":53.9,"b":53.6},{"t":"2012-12-24 09:00","r":30,"b":30},{"t":"2012-12-24 10:00","r":22,"b":22},{"t":"2012-12-24 11:00","r":18,"b":18},{"t":"2012-12-24 12:00","r":14,"b":14},{"t":"2012-12-24 13:00","r":10,"b":10},{"t":"2012-12-24 14:00","r":6,"b":6},{"t":"2012-12-24 15:00","r":15,"b":15},{"t":"2012-12-24 16:00","r":11,"b":11},{"t":"2012-12-24 17:00","r":7,"b":7},{"t":"2012-12-24 18:00","r":3,"b":3},{"t":"2012-12-24 19:00","r":12,"b":12},{"t":"2012-12-24 20:00","r":8,"b":8},{"t":"2012-12-24 21:00","r":4,"b":4},
  {"t":"2012-12-25 00:00","r":9,"b":9},{"t":"2012-12-25 02:00","r":5,"b":5},{"t":"2012-12-25 06:00","r":6,"b":6},{"t":"2012-12-25 08:00","r":3,"b":3},{"t":"2012-12-25 12:00","r":4,"b":4},{"t":"2012-12-25 18:00","r":3,"b":3},
  {"t":"2012-12-26 00:00","r":2.5,"b":2.5},{"t":"2012-12-26 12:00","r":3,"b":3},
  {"t":"2012-12-27 00:00","r":6,"b":6},{"t":"2012-12-27 02:00","r":3,"b":3},{"t":"2012-12-27 06:00","r":9,"b":9},{"t":"2012-12-27 08:00","r":5,"b":5},{"t":"2012-12-27 10:00","r":2,"b":2},{"t":"2012-12-27 12:00","r":11,"b":11},{"t":"2012-12-27 13:00","r":7,"b":7},{"t":"2012-12-27 14:00","r":3,"b":3},{"t":"2012-12-27 15:00","r":18.5,"b":18.5},{"t":"2012-12-27 16:00","r":25,"b":25},{"t":"2012-12-27 16:30","r":31.5,"b":31.5},{"t":"2012-12-27 17:00","r":18,"b":18},{"t":"2012-12-27 18:00","r":14,"b":14},{"t":"2012-12-27 19:00","r":10,"b":10},{"t":"2012-12-27 20:00","r":6,"b":6},{"t":"2012-12-27 21:00","r":2,"b":2},{"t":"2012-12-27 22:00","r":12,"b":12},{"t":"2012-12-27 23:00","r":8,"b":8},
  {"t":"2012-12-28 00:00","r":4,"b":4},{"t":"2012-12-28 02:00","r":11,"b":11},{"t":"2012-12-28 03:00","r":7,"b":7},{"t":"2012-12-28 04:00","r":3,"b":3},{"t":"2012-12-28 06:00","r":10,"b":10},{"t":"2012-12-28 07:00","r":6,"b":6},{"t":"2012-12-28 08:00","r":2,"b":2},{"t":"2012-12-28 10:00","r":8,"b":8},{"t":"2012-12-28 12:00","r":4,"b":4},{"t":"2012-12-28 14:00","r":5,"b":5},{"t":"2012-12-28 16:00","r":2,"b":2},{"t":"2012-12-28 18:00","r":5,"b":5},{"t":"2012-12-28 20:00","r":2,"b":2},
  {"t":"2012-12-29 00:00","r":3,"b":3},{"t":"2012-12-29 12:00","r":2,"b":2},{"t":"2012-12-29 18:00","r":2,"b":2},
  {"t":"2012-12-30 06:00","r":2.5,"b":2.5},{"t":"2012-12-30 12:00","r":3,"b":3},{"t":"2012-12-30 18:00","r":5,"b":5},{"t":"2012-12-30 20:00","r":2,"b":2},
  {"t":"2012-12-31 00:00","r":6,"b":6},{"t":"2012-12-31 02:00","r":3,"b":3},{"t":"2012-12-31 06:00","r":5.5,"b":5.5},{"t":"2012-12-31 08:00","r":2,"b":2},{"t":"2012-12-31 12:00","r":7,"b":7},{"t":"2012-12-31 14:00","r":4,"b":4},{"t":"2012-12-31 18:00","r":6.5,"b":6.5},{"t":"2012-12-31 20:00","r":3,"b":3},
  {"t":"2013-01-01 00:00","r":8,"b":8},{"t":"2013-01-01 02:00","r":4,"b":4},{"t":"2013-01-01 04:00","r":12,"b":12},{"t":"2013-01-01 05:00","r":8,"b":8},{"t":"2013-01-01 06:00","r":4,"b":4},{"t":"2013-01-01 07:00","r":18,"b":18},{"t":"2013-01-01 08:00","r":14,"b":14},{"t":"2013-01-01 09:00","r":22,"b":22},{"t":"2013-01-01 09:30","r":29.3,"b":29.3},{"t":"2013-01-01 10:00","r":35,"b":35},{"t":"2013-01-01 10:30","r":44.2,"b":44.2},{"t":"2013-01-01 11:00","r":72,"b":70.1},{"t":"2013-01-01 11:30","r":93.6,"b":89.7},{"t":"2013-01-01 12:00","r":106.4,"b":100.1},{"t":"2013-01-01 12:30","r":80,"b":77.8},{"t":"2013-01-01 13:00","r":55.6,"b":55.6},{"t":"2013-01-01 13:30","r":48.8,"b":48.8},{"t":"2013-01-01 14:00","r":40.2,"b":40.2},{"t":"2013-01-01 15:00","r":30,"b":30},{"t":"2013-01-01 16:00","r":25,"b":25},{"t":"2013-01-01 17:00","r":21,"b":21},{"t":"2013-01-01 18:00","r":17,"b":17},{"t":"2013-01-01 19:00","r":13,"b":13},{"t":"2013-01-01 20:00","r":9,"b":9},{"t":"2013-01-01 21:00","r":5,"b":5},{"t":"2013-01-01 22:00","r":22,"b":22},{"t":"2013-01-01 23:00","r":18,"b":18},
  {"t":"2013-01-02 00:00","r":14,"b":14},{"t":"2013-01-02 01:00","r":10,"b":10},{"t":"2013-01-02 02:00","r":6,"b":6},{"t":"2013-01-02 03:00","r":2,"b":2},{"t":"2013-01-02 04:00","r":15,"b":15},{"t":"2013-01-02 05:00","r":11,"b":11},{"t":"2013-01-02 06:00","r":7,"b":7},{"t":"2013-01-02 07:00","r":17,"b":17},{"t":"2013-01-02 08:00","r":13,"b":13},{"t":"2013-01-02 09:00","r":9,"b":9},{"t":"2013-01-02 10:00","r":20,"b":20},{"t":"2013-01-02 11:00","r":16,"b":16},{"t":"2013-01-02 12:00","r":12,"b":12},{"t":"2013-01-02 13:00","r":22,"b":22},{"t":"2013-01-02 14:00","r":18,"b":18},{"t":"2013-01-02 15:00","r":14,"b":14},{"t":"2013-01-02 16:00","r":19,"b":19},{"t":"2013-01-02 17:00","r":15,"b":15},{"t":"2013-01-02 18:00","r":11,"b":11},{"t":"2013-01-02 19:00","r":21,"b":21},{"t":"2013-01-02 20:00","r":17,"b":17},{"t":"2013-01-02 21:00","r":13,"b":13},{"t":"2013-01-02 22:00","r":23,"b":23},{"t":"2013-01-02 23:00","r":19,"b":19},
  {"t":"2013-01-03 00:00","r":15,"b":15},{"t":"2013-01-03 01:00","r":18,"b":18},{"t":"2013-01-03 02:00","r":11,"b":11},{"t":"2013-01-03 03:00","r":7,"b":7},{"t":"2013-01-03 04:00","r":16,"b":16},{"t":"2013-01-03 05:00","r":12,"b":12},{"t":"2013-01-03 06:00","r":8,"b":8},{"t":"2013-01-03 07:00","r":20,"b":20},{"t":"2013-01-03 08:00","r":16,"b":16},{"t":"2013-01-03 09:00","r":12,"b":12},{"t":"2013-01-03 10:00","r":22.8,"b":22.8},{"t":"2013-01-03 11:00","r":18,"b":18},{"t":"2013-01-03 12:00","r":14,"b":14},{"t":"2013-01-03 13:00","r":19,"b":19},{"t":"2013-01-03 14:00","r":15,"b":15},{"t":"2013-01-03 15:00","r":11,"b":11},{"t":"2013-01-03 16:00","r":17,"b":17},{"t":"2013-01-03 17:00","r":13,"b":13},{"t":"2013-01-03 18:00","r":9,"b":9},{"t":"2013-01-03 19:00","r":20,"b":20},{"t":"2013-01-03 20:00","r":16,"b":16},{"t":"2013-01-03 21:00","r":12,"b":12},{"t":"2013-01-03 22:00","r":20,"b":20},{"t":"2013-01-03 23:00","r":15,"b":15},
  {"t":"2013-01-04 00:00","r":11,"b":11},{"t":"2013-01-04 02:00","r":7,"b":7},{"t":"2013-01-04 03:00","r":3,"b":3},{"t":"2013-01-04 04:00","r":22,"b":22},{"t":"2013-01-04 05:00","r":18,"b":18},{"t":"2013-01-04 06:00","r":14,"b":14},{"t":"2013-01-04 07:00","r":10,"b":10},{"t":"2013-01-04 08:00","r":24,"b":24},{"t":"2013-01-04 09:00","r":20,"b":20},{"t":"2013-01-04 10:00","r":16,"b":16},{"t":"2013-01-04 11:00","r":12,"b":12},{"t":"2013-01-04 12:00","r":26,"b":26},{"t":"2013-01-04 13:00","r":29,"b":29},{"t":"2013-01-04 14:00","r":31.5,"b":31.5},{"t":"2013-01-04 15:00","r":24,"b":24},{"t":"2013-01-04 16:00","r":20,"b":20},{"t":"2013-01-04 17:00","r":16,"b":16},{"t":"2013-01-04 18:00","r":12,"b":12},{"t":"2013-01-04 19:00","r":8,"b":8},{"t":"2013-01-04 20:00","r":18,"b":18},{"t":"2013-01-04 21:00","r":14,"b":14},{"t":"2013-01-04 22:00","r":10,"b":10},{"t":"2013-01-04 23:00","r":6,"b":6},
  {"t":"2013-01-05 00:00","r":16,"b":16},{"t":"2013-01-05 01:00","r":12,"b":12},{"t":"2013-01-05 02:00","r":8,"b":8},{"t":"2013-01-05 04:00","r":19,"b":19},{"t":"2013-01-05 05:00","r":15,"b":15},{"t":"2013-01-05 06:00","r":11,"b":11},{"t":"2013-01-05 07:00","r":7,"b":7},{"t":"2013-01-05 08:00","r":22,"b":22},{"t":"2013-01-05 09:00","r":24,"b":24},{"t":"2013-01-05 10:00","r":26,"b":23.7},{"t":"2013-01-05 11:00","r":20,"b":20},{"t":"2013-01-05 12:00","r":18,"b":18},{"t":"2013-01-05 13:00","r":14,"b":14},{"t":"2013-01-05 14:00","r":10,"b":10},{"t":"2013-01-05 15:00","r":6,"b":6},{"t":"2013-01-05 16:00","r":14,"b":14},{"t":"2013-01-05 17:00","r":10,"b":10},{"t":"2013-01-05 18:00","r":6,"b":6},{"t":"2013-01-05 20:00","r":10,"b":10},{"t":"2013-01-05 21:00","r":6,"b":6},{"t":"2013-01-05 22:00","r":3,"b":3},
  {"t":"2013-01-06 00:00","r":7,"b":7},{"t":"2013-01-06 02:00","r":4,"b":4},{"t":"2013-01-06 04:00","r":5,"b":5},{"t":"2013-01-06 07:00","r":3.5,"b":3.5}
 ]
},
"spacing": 84,
"resolve": {"scale": {"color": "independent"}, "legend": {"color": "independent"}},
"hconcat": [
 {
  "width": 498, "height": 347,
  "resolve": {"axis": {"x": "independent", "y": "independent"}},
  "layer": [
   {"data": {"name": "nc"}, "mark": {"type": "point", "filled": true, "size": 40, "opacity": 1},
    "encoding": {
     "x": {"field": "q", "type": "quantitative", "scale": {"domain": [0, 150], "nice": false}, "axis": {"values": [0, 50, 100, 150], "labelFlush": false, "labelPadding": 7, "title": "Débits (m³.s⁻¹)", "titlePadding": 9}},
     "y": {"field": "h", "type": "quantitative", "scale": {"domain": [0, 3], "nice": false}, "axis": {"values": [0, 0.5, 1, 1.5, 2, 2.5, 3], "format": "~g", "grid": true, "gridDash": [2, 3], "gridColor": "black", "gridOpacity": 0.8, "title": "Hauteur d'eau (m)", "titlePadding": 5}},
     "color": {"datum": "Débit non corrigé", "scale": {"domain": ["Débit non corrigé", "Débit corrigé"], "range": ["#ff0000", "#0000ff"]},
      "legend": {"orient": "none", "legendX": 284, "legendY": 254, "symbolType": "circle", "symbolSize": 40, "symbolOffset": 17, "labelOffset": 16}}
    }},
   {"data": {"name": "c"}, "mark": {"type": "point", "filled": true, "size": 40, "opacity": 1},
    "encoding": {
     "x": {"field": "q", "type": "quantitative", "axis": null},
     "y": {"field": "h", "type": "quantitative", "axis": null},
     "color": {"datum": "Débit corrigé"}
    }},
   {"data": {"values": [{}]},
    "mark": {"type": "text", "text": "a", "align": "left", "baseline": "middle", "fontSize": 19, "fontWeight": "bold", "color": "black"},
    "encoding": {
     "x": {"datum": 4.5, "type": "quantitative", "axis": {"orient": "top", "values": [0, 50, 100, 150], "labels": false, "title": null, "grid": false}},
     "y": {"datum": 2.89, "type": "quantitative", "axis": {"orient": "right", "values": [0, 0.5, 1, 1.5, 2, 2.5, 3], "labels": false, "title": null, "grid": false}}}}
  ]
 },
 {
  "width": 499, "height": 347,
  "resolve": {"axis": {"x": "independent", "y": "independent"}},
  "layer": [
   {"data": {"name": "ts"}, "mark": {"type": "line", "strokeWidth": 3.5},
    "encoding": {
     "x": {"field": "t", "type": "temporal", "scale": {"domain": [{"year": 2012, "month": 10, "date": 1}, {"year": 2013, "month": 1, "date": 11, "hours": 12}]},
      "axis": {"values": [{"year": 2012, "month": 10, "date": 1}, {"year": 2012, "month": 11, "date": 1}, {"year": 2012, "month": 12, "date": 1}, {"year": 2013, "month": 1, "date": 1}, {"year": 2013, "month": 1, "date": 11, "hours": 12}],
       "labelExpr": "datum.value > datetime(2013, 0, 5) ? 'Feb13' : timeFormat(datum.value, '%b%y')", "labelOverlap": false, "labelFlush": false, "labelBound": false, "labelPadding": 13, "title": null}},
     "y": {"field": "r", "type": "quantitative", "scale": {"domain": [0, 150], "nice": false}, "axis": {"values": [0, 50, 100, 150], "title": "Débit (m³.s⁻¹)", "titlePadding": 8}},
     "color": {"datum": "Débit non corrigé", "scale": {"domain": ["Débit non corrigé", "Débit corrigé"], "range": ["#ff0000", "#0000ff"]},
      "legend": {"orient": "none", "legendX": 296, "legendY": 7, "symbolType": "stroke", "symbolSize": 1681, "symbolStrokeWidth": 3, "symbolOffset": 17, "labelOffset": 16,
       "encode": {"symbols": {"update": {
        "shape": {"signal": "datum.value === 'Débit corrigé' ? 'circle' : 'stroke'"},
        "size": {"signal": "datum.value === 'Débit corrigé' ? 40 : 1681"},
        "fill": {"signal": "datum.value === 'Débit corrigé' ? '#0000ff' : 'transparent'"},
        "stroke": {"signal": "datum.value === 'Débit corrigé' ? '#0000ff' : '#ff0000'"},
        "strokeWidth": {"signal": "datum.value === 'Débit corrigé' ? 0 : 3"},
        "opacity": {"value": 1}
       }}}}}
    }},
   {"data": {"name": "ts"}, "mark": {"type": "point", "filled": true, "size": 40, "opacity": 1},
    "encoding": {
     "x": {"field": "t", "type": "temporal", "axis": null},
     "y": {"field": "b", "type": "quantitative", "axis": null},
     "color": {"datum": "Débit corrigé"}
    }},
   {"data": {"values": [{}]},
    "mark": {"type": "text", "text": "b", "align": "left", "baseline": "middle", "fontSize": 19, "fontWeight": "bold", "color": "black"},
    "encoding": {
     "x": {"datum": {"year": 2012, "month": 10, "date": 3, "hours": 16}, "type": "temporal", "axis": {"orient": "top", "values": [{"year": 2012, "month": 10, "date": 1}, {"year": 2012, "month": 11, "date": 1}, {"year": 2012, "month": 12, "date": 1}, {"year": 2013, "month": 1, "date": 1}], "labels": false, "title": null, "grid": false}},
     "y": {"datum": 145, "type": "quantitative", "axis": {"orient": "right", "values": [0, 50, 100, 150], "labels": false, "title": null, "grid": false}}}}
  ]
 }
]
}
